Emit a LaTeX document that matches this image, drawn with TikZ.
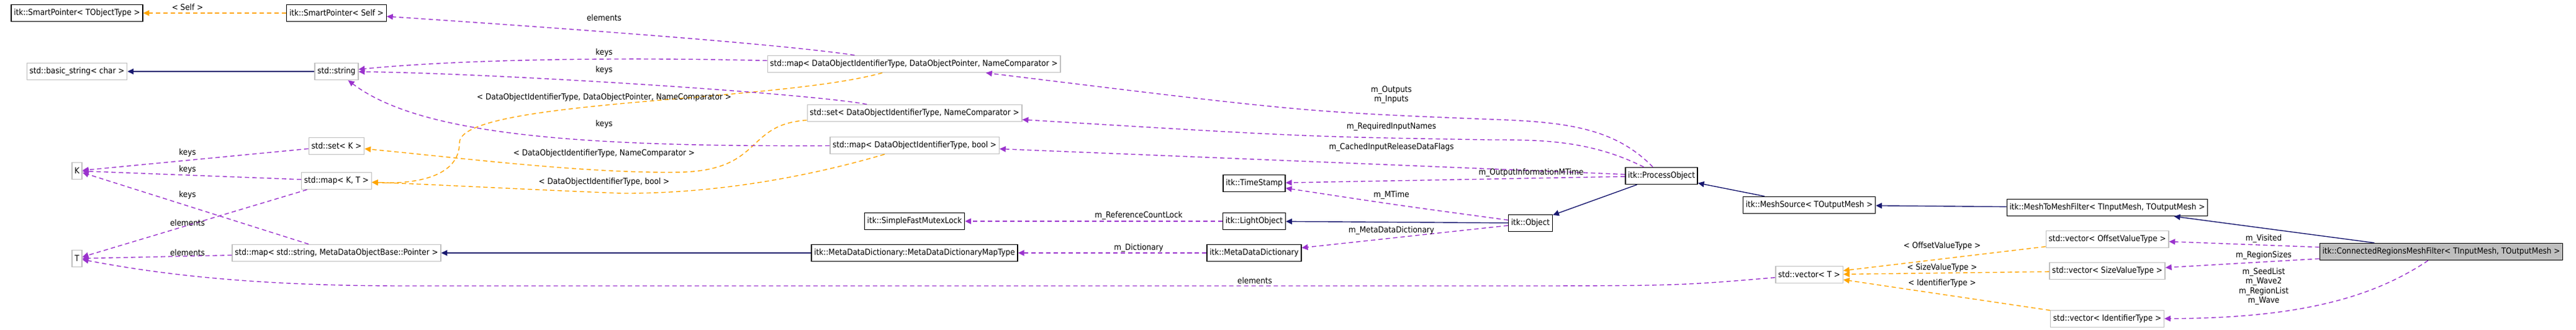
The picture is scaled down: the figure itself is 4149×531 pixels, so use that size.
\documentclass[tikz,border=0pt]{standalone}
\usepackage{fontspec}
\setmainfont{DejaVu Sans Condensed}
\usetikzlibrary{arrows.meta}
\definecolor{usecol}{HTML}{9A32CD}
\definecolor{tplcol}{HTML}{FFA500}
\definecolor{inhcol}{HTML}{191970}
\definecolor{boxgrey}{HTML}{BFBFBF}
\tikzset{
  cls/.style={rectangle, draw=black, thin, fill=white, minimum height=0.27cm, inner sep=1.2pt, font=\fontsize{3.8}{4.5}\selectfont},
  ext/.style={cls, draw=boxgrey},
  main/.style={cls, fill=boxgrey},
  lbl/.style={font=\fontsize{3.8}{4.3}\selectfont, inner sep=0.5pt, align=center},
  use/.style={draw=usecol, line width=0.4pt, dash pattern=on 2pt off 1.4pt, -{Triangle[length=2.8pt,width=2.6pt]}},
  tpl/.style={use, draw=tplcol},
  inh/.style={draw=inhcol, line width=0.4pt, -{Triangle[length=2.8pt,width=2.6pt]}}
}
\begin{document}
\begin{tikzpicture}[x=0.01cm, y=-0.01cm]
\useasboundingbox (0,0) rectangle (4149,531);

% classes
\node[cls] (spt) at (124,21) {itk::SmartPointer< TObjectType >};
\node[cls] (sps) at (542,21) {itk::SmartPointer< Self >};
\node[ext] (bstr) at (124,115) {std::basic\_string< char >};
\node[ext] (str) at (542,115) {std::string};
\node[ext] (setk) at (542,235) {std::set< K >};
\node[ext] (K) at (124,275) {K};
\node[ext] (mapkt) at (542,291) {std::map< K, T >};
\node[ext] (T) at (124,416) {T};
\node[ext] (mapmdo) at (542,407) {std::map< std::string, MetaDataObjectBase::Pointer >};
\node[ext] (mapdop) at (1472,103) {std::map< DataObjectIdentifierType, DataObjectPointer, NameComparator >};
\node[ext] (setdoi) at (1473,182) {std::set< DataObjectIdentifierType, NameComparator >};
\node[ext] (mapbool) at (1473,234) {std::map< DataObjectIdentifierType, bool >};
\node[cls] (ts) at (2020,295) {itk::TimeStamp};
\node[cls] (sfml) at (1473,356) {itk::SimpleFastMutexLock};
\node[cls] (lo) at (2020,356) {itk::LightObject};
\node[cls] (mdmt) at (1473,407) {itk::MetaDataDictionary::MetaDataDictionaryMapType};
\node[cls] (mdd) at (2020,407) {itk::MetaDataDictionary};
\node[cls] (po) at (2676,283) {itk::ProcessObject};
\node[cls] (obj) at (2465,359) {itk::Object};
\node[cls] (ms) at (2914,330) {itk::MeshSource< TOutputMesh >};
\node[ext] (vect) at (2914,442) {std::vector< T >};
\node[cls] (m2m) at (3394,334) {itk::MeshToMeshFilter< TInputMesh, TOutputMesh >};
\node[main] (cr) at (3932,405) {itk::ConnectedRegionsMeshFilter< TInputMesh, TOutputMesh >};
\node[ext] (voff) at (3394,385) {std::vector< OffsetValueType >};
\node[ext] (vsize) at (3394,436) {std::vector< SizeValueType >};
\node[ext] (vid) at (3394,513) {std::vector< IdentifierType >};

% inheritance
\draw[inh] (str) -- (bstr);
\draw[inh] (mdmt) -- (mapmdo);
\draw[inh] (obj) -- (lo);
\draw[inh] (po) -- (obj);
\draw[inh] (ms) -- (po);
\draw[inh] (m2m) -- (ms);
\draw[inh] (cr) -- (m2m);

% templates
\draw[tpl] (sps) -- (spt);
\draw[tpl] (mapdop) .. controls (1250,165) and (740,160) .. (740,230) .. controls (740,280) and (680,297) .. (mapkt);
\draw[tpl] (setdoi) .. controls (1200,200) and (1230,272) .. (1100,277) .. controls (950,280) and (750,255) .. (setk);
\draw[tpl] (mapbool) .. controls (1300,285) and (1150,312) .. (1000,311) .. controls (850,305) and (700,297) .. (mapkt);
\draw[tpl] (voff) -- (vect);
\draw[tpl] (vsize) -- (vect);
\draw[tpl] (vid) -- (vect);

% members
\draw[use] (mapdop) .. controls (1250,70) and (900,45) .. (sps);
\draw[use] (mapdop) .. controls (1000,92) and (750,95) .. (str);
\draw[use] (setdoi) .. controls (1300,150) and (800,118) .. (str);
\draw[use] (mapbool) .. controls (950,236) and (680,220) .. (str);
\draw[use] (setk) -- (K);
\draw[use] (mapkt) -- (K);
\draw[use] (mapmdo) -- (K);
\draw[use] (mapkt) -- (T);
\draw[use] (mapmdo) -- (T);
\draw[use] (vect) .. controls (2700,460) .. (2400,460) -- (650,460) .. controls (400,460) and (250,440) .. (T);
\draw[use] (po) .. controls (2600,205) and (2520,196) .. (2400,192) .. controls (2100,180) .. (mapdop);
\draw[use] (po) .. controls (2560,225) and (2480,225) .. (2400,225) .. controls (2100,220) .. (setdoi);
\draw[use] (po) -- (mapbool);
\draw[use] (po) -- (ts);
\draw[use] (obj) .. controls (2250,330) .. (ts);
\draw[use] (obj) -- (mdd);
\draw[use] (lo) -- (sfml);
\draw[use] (mdd) -- (mdmt);
\draw[use] (cr) -- (voff);
\draw[use] (cr) -- (vsize);
\draw[use] (cr) .. controls (3820,480) and (3700,512) .. (vid);

% labels
\node[lbl] (lself) at (302,12) {< Self >};
\node[lbl] (lel1) at (973,29) {elements};
\node[lbl] (lk1) at (973,85) {keys};
\node[lbl] (lk2) at (973,113) {keys};
\node[lbl] (ltdop) at (973,157) {< DataObjectIdentifierType, DataObjectPointer, NameComparator >};
\node[lbl] (lk3) at (973,200) {keys};
\node[lbl] (ltnc) at (973,247) {< DataObjectIdentifierType, NameComparator >};
\node[lbl] (ltbool) at (973,293) {< DataObjectIdentifierType, bool >};
\node[lbl] (lk4) at (302,246) {keys};
\node[lbl] (lk5) at (302,273) {keys};
\node[lbl] (lk6) at (302,314) {keys};
\node[lbl] (lel2) at (302,359) {elements};
\node[lbl] (lel3) at (302,407) {elements};
\node[lbl] (lel4) at (2021,452) {elements};
\node[lbl] (lio) at (2241,153) {m\_Outputs\\m\_Inputs};
\node[lbl] (lrin) at (2241,204) {m\_RequiredInputNames};
\node[lbl] (lcir) at (2241,237) {m\_CachedInputReleaseDataFlags};
\node[lbl] (loim) at (2466,278) {m\_OutputInformationMTime};
\node[lbl] (lmt) at (2241,314) {m\_MTime};
\node[lbl] (lmdd) at (2241,371) {m\_MetaDataDictionary};
\node[lbl] (lrcl) at (1834,347) {m\_ReferenceCountLock};
\node[lbl] (ldic) at (1834,399) {m\_Dictionary};
\node[lbl] (loff) at (3128,396) {< OffsetValueType >};
\node[lbl] (lsize) at (3128,431) {< SizeValueType >};
\node[lbl] (lid) at (3128,456) {< IdentifierType >};
\node[lbl] (lvis) at (3646,384) {m\_Visited};
\node[lbl] (lrs) at (3646,411) {m\_RegionSizes};
\node[lbl] (lsw) at (3646,461) {m\_SeedList\\m\_Wave2\\m\_RegionList\\m\_Wave};
\end{tikzpicture}
\end{document}
